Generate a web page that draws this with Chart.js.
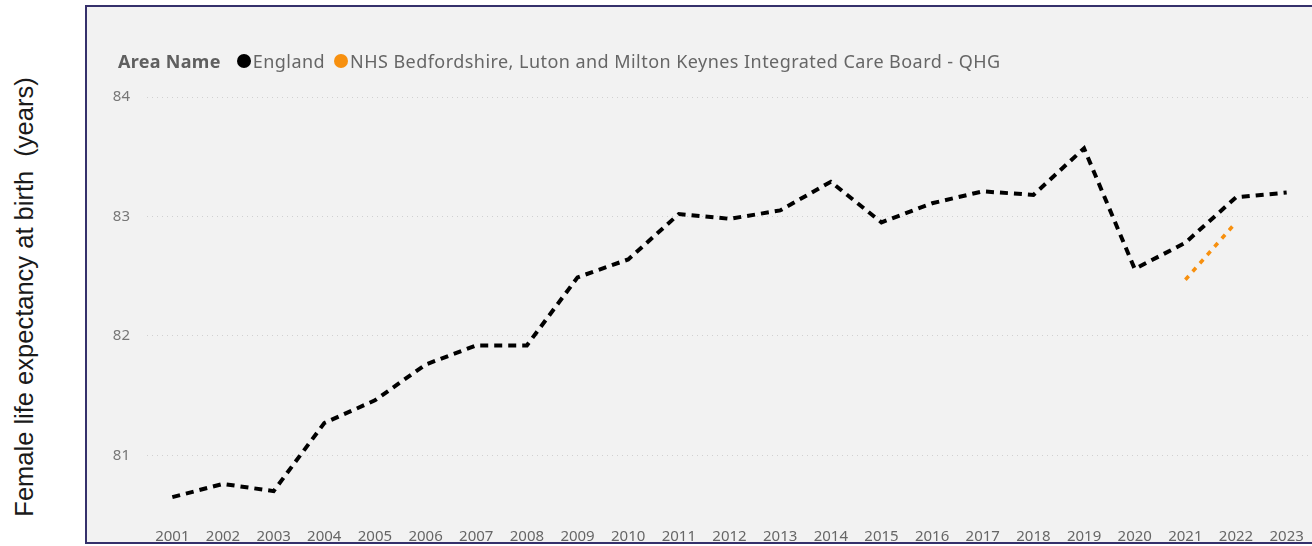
<!DOCTYPE html>
<html>
<head>
<meta charset="utf-8">
<script src="https://cdn.jsdelivr.net/npm/chart.js@4"></script>
<style>
  html, body { margin: 0; padding: 0; background: #fff; overflow: hidden; }
  body { width: 1312px; height: 546px; position: relative; }
  #yTitle {
    position: absolute; left: 24px; top: 297px;
    transform: translate(-50%, -50%) rotate(-90deg);
    white-space: pre; font-family: "Liberation Sans", Arial, sans-serif;
    font-size: 25.5px; color: #1a1a1a;
  }
  #frame {
    position: absolute; left: 85px; top: 5px; width: 1260px; height: 535px;
    border: 2px solid #35306b; background: #f2f2f2;
  }
  #legend {
    position: absolute; left: 31px; top: 42px; font-family: "Noto Sans", sans-serif;
    font-size: 18px; letter-spacing: 0.45px; color: #666; white-space: nowrap; display: flex; align-items: center;
  }
  #legend b { color: #5f5f5f; margin-right: 10px; letter-spacing: 0.3px; }
  #legend .dot { display: inline-block; width: 14px; height: 14px; border-radius: 50%; margin: 0 2px 0 6px; }
  #legend .item { display: flex; align-items: center; margin-right: 3px; }
  #wrap { position: absolute; left: 0; top: 0; width: 1225px; height: 535px; }
</style>
</head>
<body>
<div id="yTitle">Female life expectancy at birth  (years)</div>
<div id="frame">
  <div id="wrap"><canvas id="chart"></canvas></div>
  <div id="legend"></div>
</div>
<script>
// ── 数据 ──
const years = ['2001','2002','2003','2004','2005','2006','2007','2008','2009','2010','2011','2012',
               '2013','2014','2015','2016','2017','2018','2019','2020','2021','2022','2023'];
const england = [80.65, 80.76, 80.70, 81.27, 81.46, 81.76, 81.92, 81.92, 82.49, 82.64, 83.02, 82.98,
                 83.05, 83.29, 82.95, 83.11, 83.21, 83.18, 83.57, 82.56, 82.78, 83.16, 83.20];
const bedsLutonMK = [null, null, null, null, null, null, null, null, null, null, null, null,
                     null, null, null, null, null, null, null, null, 82.47, 82.95, null];
const yTicks = [81, 82, 83, 84];
const legendTitle = 'Area Name';
const seriesNames = ['England', 'NHS Bedfordshire, Luton and Milton Keynes Integrated Care Board - QHG'];
const seriesColors = ['#000000', '#f7900f'];

// ── 图例 ──
const legendEl = document.getElementById('legend');
legendEl.innerHTML = `<b>${legendTitle}</b>` + seriesNames.map((n, i) =>
  `<span class="item"><span class="dot" style="background:${seriesColors[i]}"></span>${n}</span>`).join('');

// ── 折线图 ──
new Chart(document.getElementById('chart'), {
  type: 'line',
  data: {
    labels: years,
    datasets: [
      {
        label: seriesNames[0],
        data: england,
        borderColor: seriesColors[0],
        borderWidth: 4,
        borderDash: [8, 6],
        pointRadius: 0,
        tension: 0,
        fill: false,
      },
      {
        label: seriesNames[1],
        data: bedsLutonMK,
        borderColor: seriesColors[1],
        borderWidth: 3.5,
        borderDash: [5, 6],
        pointRadius: 0,
        tension: 0,
        fill: false,
        spanGaps: false,
      },
    ],
  },
  options: {
    responsive: true,
    maintainAspectRatio: false,
    animation: false,
    layout: { padding: { top: 90, right: 0, left: 0, bottom: 0 } },
    plugins: { legend: { display: false }, tooltip: { enabled: false } },
    scales: {
      x: {
        offset: true,
        grid: { display: false },
        border: { display: false },
        ticks: { color: '#666', font: { family: 'Noto Sans', size: 15 }, padding: 5, maxRotation: 0, autoSkip: false },
        afterFit: s => { s.height = 27; },
      },
      y: {
        min: 80.5,
        max: 84,
        afterBuildTicks: s => { s.ticks = yTicks.map(v => ({ value: v })); },
        grid: { color: '#d0d0d0', drawTicks: false, lineWidth: 1 },
        border: { display: false, dash: [1, 4] },
        ticks: { color: '#777', font: { family: 'Noto Sans', size: 15 }, padding: 17 },
        afterFit: s => { s.width = 60; },
      },
    },
  },
});
</script>
</body>
</html>
